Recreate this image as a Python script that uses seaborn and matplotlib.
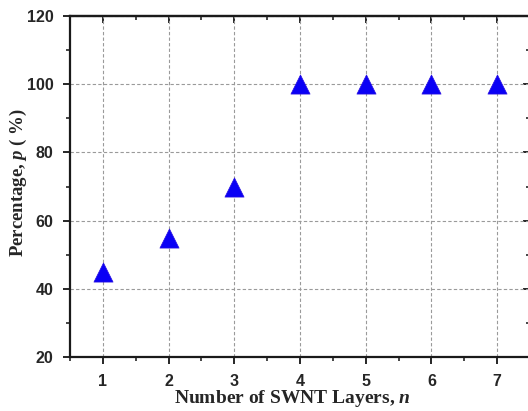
import matplotlib
matplotlib.use("Agg")
import matplotlib.pyplot as plt
from matplotlib.ticker import MultipleLocator
import seaborn as sns

layers = [1, 2, 3, 4, 5, 6, 7]
percentage = [45, 55, 70, 100, 100, 100, 100]

sns.set_style("ticks")
plt.rcParams["font.family"] = ["Liberation Sans", "DejaVu Sans"]
plt.rcParams["mathtext.fontset"] = "custom"
plt.rcParams["mathtext.it"] = "Liberation Serif:italic:bold"
plt.rcParams["mathtext.rm"] = "Liberation Serif:bold"

fig = plt.figure(figsize=(5.28, 4.11), dpi=100)
ax = fig.add_axes([70 / 528, 1 - 357 / 411, 460 / 528, 341 / 411])

sns.scatterplot(x=layers, y=percentage, marker="^", s=190, color="#0a00f5",
                edgecolor="#2a10e0", linewidth=0.5, ax=ax, zorder=3, clip_on=False)

ax.set_xlim(0.5, 7.5)
ax.set_ylim(20, 120)
ax.xaxis.set_major_locator(MultipleLocator(1))
ax.xaxis.set_minor_locator(MultipleLocator(0.5))
ax.yaxis.set_major_locator(MultipleLocator(20))
ax.yaxis.set_minor_locator(MultipleLocator(10))

ax.grid(True, which="major", linestyle=(0, (3, 2)), color="#9a9a9a", linewidth=0.8)
ax.set_axisbelow(True)

for s in ax.spines.values():
    s.set_linewidth(1.6)
    s.set_color("#1a1a1a")

ax.tick_params(which="major", direction="out", length=5, width=1.4,
               labelsize=11.5, pad=7)
ax.tick_params(which="minor", direction="out", length=3, width=1.2)
for lab in ax.get_xticklabels() + ax.get_yticklabels():
    lab.set_fontweight("bold")

# inward ticks on top and right
top = ax.secondary_xaxis("top")
top.xaxis.set_major_locator(MultipleLocator(1))
top.xaxis.set_minor_locator(MultipleLocator(0.5))
top.tick_params(which="major", direction="in", length=5, width=1.4, labeltop=False)
top.tick_params(which="minor", direction="in", length=3, width=1.2)
top.spines["top"].set_linewidth(1.6)
right = ax.secondary_yaxis("right")
right.yaxis.set_major_locator(MultipleLocator(20))
right.yaxis.set_minor_locator(MultipleLocator(10))
right.tick_params(which="major", direction="in", length=5, width=1.4, labelright=False)
right.tick_params(which="minor", direction="in", length=3, width=1.2)
right.spines["right"].set_linewidth(1.6)

ax.set_xlabel("Number of SWNT Layers, $n$", family="Liberation Serif",
              fontweight="bold", fontsize=14, labelpad=1)
ax.xaxis.set_label_coords(0.483, -0.09)
ax.set_ylabel("Percentage, $p$ ( %)", family="Liberation Serif",
              fontweight="bold", fontsize=13.5)
ax.yaxis.set_label_coords(-0.09, 0.512)

fig.savefig("out.png", dpi=100)
